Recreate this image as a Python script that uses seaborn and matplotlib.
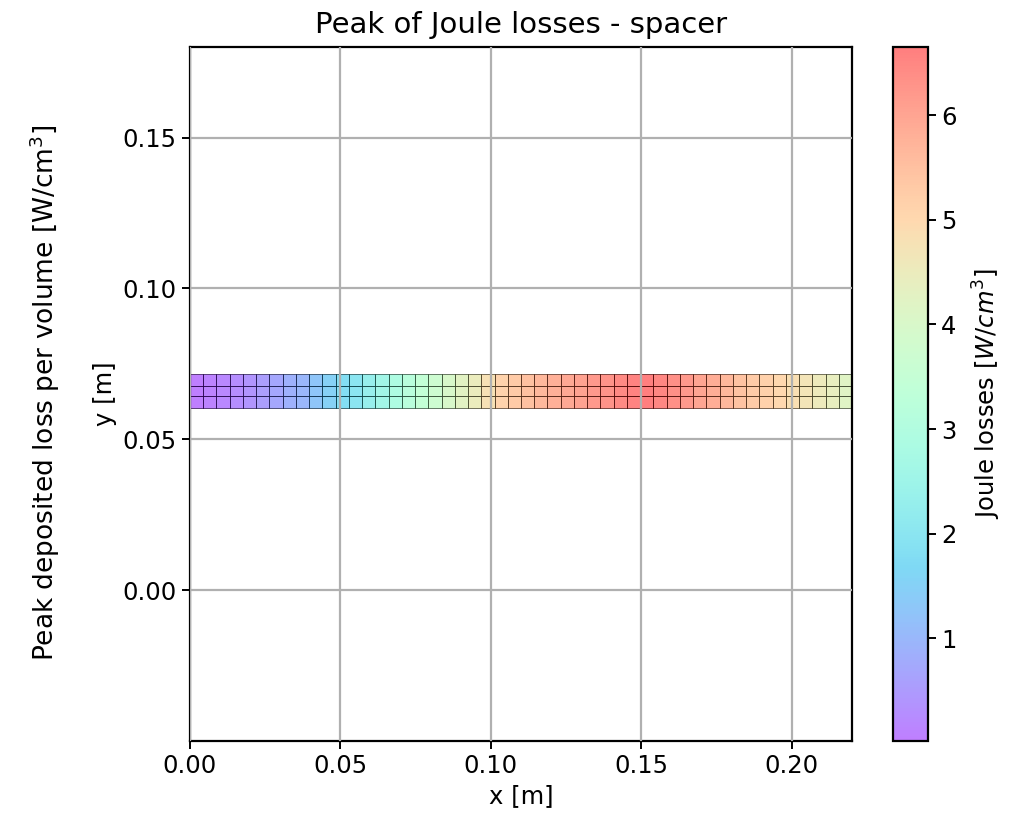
import matplotlib
matplotlib.use("Agg")
import matplotlib.pyplot as plt
import numpy as np
import seaborn as sns

# Joule losses per column of the spacer mesh [W/cm^3], read left to right
joule_losses = [0.02, 0.1, 0.2, 0.3, 0.4, 0.55, 0.7, 0.9,
                1.0, 1.25, 1.5, 1.8, 2.0, 2.3, 2.6, 2.9, 3.2,
                3.45, 3.7, 4.0, 4.25, 4.5, 4.8, 5.1, 5.3,
                5.5, 5.65, 5.8, 5.95, 6.05, 6.2, 6.3, 6.45, 6.55,
                6.65, 6.5, 6.35, 6.2, 6.0, 5.85, 5.65, 5.45,
                5.3, 5.15, 5.0, 4.85, 4.7, 4.55, 4.4, 4.2]
x_start, x_end = 0.0, 0.22
y_edges = [0.0605, 0.0642, 0.0678, 0.0715]
x_ticks = [0.00, 0.05, 0.10, 0.15, 0.20]
y_ticks = [0.00, 0.05, 0.10, 0.15]
cbar_ticks = [1, 2, 3, 4, 5, 6]

sns.set_style("white")
plt.rcParams['font.family'] = ['DejaVu Sans']
plt.rcParams['mathtext.fontset'] = 'dejavusans'
plt.rcParams['text.color'] = 'black'
plt.rcParams['axes.labelcolor'] = 'black'
plt.rcParams['xtick.color'] = 'black'
plt.rcParams['ytick.color'] = 'black'

x_edges = np.linspace(x_start, x_end, len(joule_losses) + 1)
values = np.tile(joule_losses, (len(y_edges) - 1, 1))
cmap = sns.color_palette("rainbow", as_cmap=True)

fig = plt.figure(figsize=(10.16, 8.13), dpi=100)
ax = fig.add_axes([0.187, 0.0886, 0.6516, 0.8534])
mesh = ax.pcolormesh(x_edges, y_edges, values, cmap=cmap, alpha=0.5,
                     edgecolors='k', linewidth=0.5,
                     vmin=min(joule_losses), vmax=max(joule_losses))
ax.set_axisbelow(False)
ax.grid(True, color='#b0b0b0', linewidth=1.6)
ax.set_xlim(x_start, x_end)
ax.set_ylim(-0.05, 0.18)
ax.set_xticks(x_ticks)
ax.set_yticks(y_ticks)
ax.set_xticklabels([f"{t:.2f}" for t in x_ticks])
ax.set_yticklabels([f"{t:.2f}" for t in y_ticks])
for s in ax.spines.values():
    s.set_linewidth(1.6)
    s.set_color('black')
ax.tick_params(direction='out', length=6, width=1.4, labelsize=17.5,
               color='black', left=True, bottom=True)
ax.set_xlabel("x [m]", fontsize=17.5)
ax.set_ylabel("y [m]", fontsize=17.5)
ax.set_title("Peak of Joule losses - spacer", fontsize=21, pad=10)

fig.text(0.044, 0.517, "Peak deposited loss per volume [W/cm$^3$]",
         rotation=90, ha='center', va='center', fontsize=19)

cax = fig.add_axes([0.879, 0.0886, 0.0344, 0.8534])
cbar = fig.colorbar(mesh, cax=cax)
cbar.set_ticks(cbar_ticks)
cbar.ax.tick_params(labelsize=17.5, length=6, width=1.4, color='black')
cbar.outline.set_linewidth(1.6)
cbar.outline.set_edgecolor('black')
cbar.set_label("Joule losses [$W/cm^3$]", fontsize=17.5, labelpad=10)

fig.savefig("out.png", dpi=100)
